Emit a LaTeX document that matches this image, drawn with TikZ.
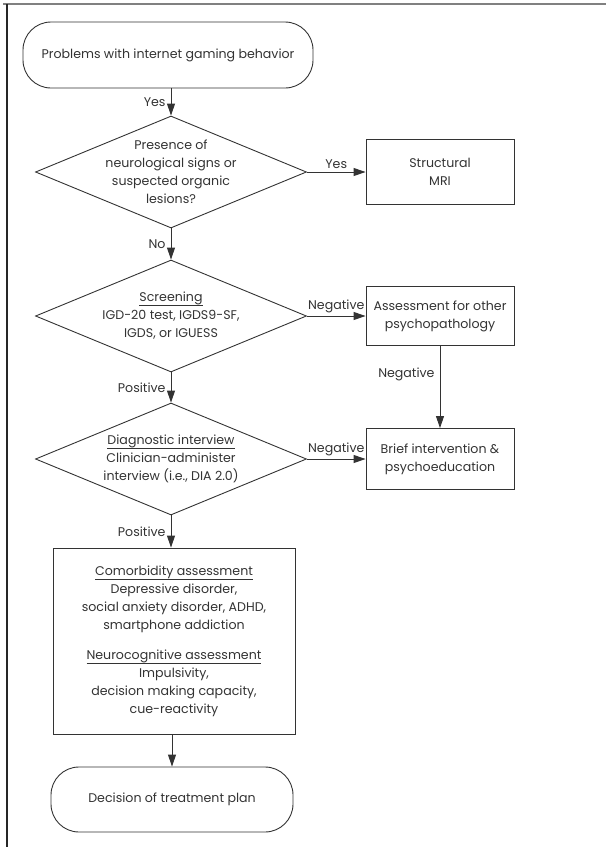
\documentclass[tikz,border=0pt]{standalone}
\usepackage{fontspec}
\setmainfont{Poppins}
\usetikzlibrary{shapes.geometric,arrows.meta}
\definecolor{inkgray}{HTML}{333333}
\newcommand{\headline}[1]{\setbox0\hbox{#1}\rlap{\rule[-4pt]{\wd0}{0.6pt}}\box0}
\tikzset{
  every node/.style={font=\fontsize{12.6}{18}\selectfont, align=center, text=inkgray},
  terminal/.style={draw=inkgray, line width=0.9pt, rounded corners=28pt, minimum width=290pt, minimum height=66pt},
  decision/.style={draw=inkgray, line width=0.9pt, diamond, aspect=2.4, inner sep=-24pt, minimum width=271pt, minimum height=112pt},
  process/.style={draw=inkgray, line width=0.9pt, minimum width=148pt},
  arr/.style={draw=inkgray, line width=0.9pt, -{Triangle[length=12pt,width=8pt]}}
}
\begin{document}
\begin{tikzpicture}[x=1pt,y=-1pt]
  \useasboundingbox (0,0) rectangle (606,847);
  % frame
  \draw[gray, line width=2pt] (3,4) -- (606,4);
  \draw[black!85, line width=1.2pt] (7,4) -- (7,847);
  % nodes
  \node[terminal] (start) at (168,55) {Problems with internet gaming behavior};
  \node[decision] (neuro) at (171,172) {Presence of\\neurological signs or\\suspected organic\\lesions?};
  \node[process, minimum height=65pt] (mri) at (440,172) {Structural\\MRI};
  \node[decision] (screen) at (171,316) {\headline{Screening}\\IGD-20 test, IGDS9-SF,\\IGDS, or IGUESS};
  \node[process, minimum height=59pt] (other) at (440,316) {Assessment for other\\psychopathology};
  \node[decision] (interview) at (171,459) {\headline{Diagnostic interview}\\Clinician-administer\\interview (i.e., DIA 2.0)};
  \node[process, minimum height=61pt] (brief) at (440,459) {Brief intervention \&\\psychoeducation};
  \node[process, minimum width=242pt, minimum height=186pt] (assess) at (174,641) {\headline{Comorbidity assessment}\\Depressive disorder,\\social anxiety disorder, ADHD,\\smartphone addiction\\[12pt]\headline{Neurocognitive assessment}\\Impulsivity,\\decision making capacity,\\cue-reactivity};
  \node[terminal, minimum width=242pt, minimum height=65pt] (plan) at (172,799.5) {Decision of treatment plan};
  % connectors
  \begin{scope}[arr]
    \draw (start.south -| neuro.north) -- node[left, inner sep=5pt]{Yes} (neuro.north);
    \draw (neuro.east) -- node[above, inner sep=3pt]{Yes} (mri.west);
    \draw (neuro.south) -- node[left, inner sep=5pt]{No} (screen.north);
    \draw (screen.east) -- node[above, inner sep=3pt]{Negative} (other.west);
    \draw (other.south) -- node[left, pos=0.35, inner sep=5pt]{Negative} (brief.north);
    \draw (screen.south) -- node[left, inner sep=5pt]{Positive} (interview.north);
    \draw (interview.east) -- node[above, inner sep=3pt]{Negative} (brief.west);
    \draw (interview.south) -- node[left, inner sep=5pt]{Positive} (interview.south |- assess.north);
    \draw (assess.south -| plan.north) -- (plan.north);
  \end{scope}
\end{tikzpicture}
\end{document}
